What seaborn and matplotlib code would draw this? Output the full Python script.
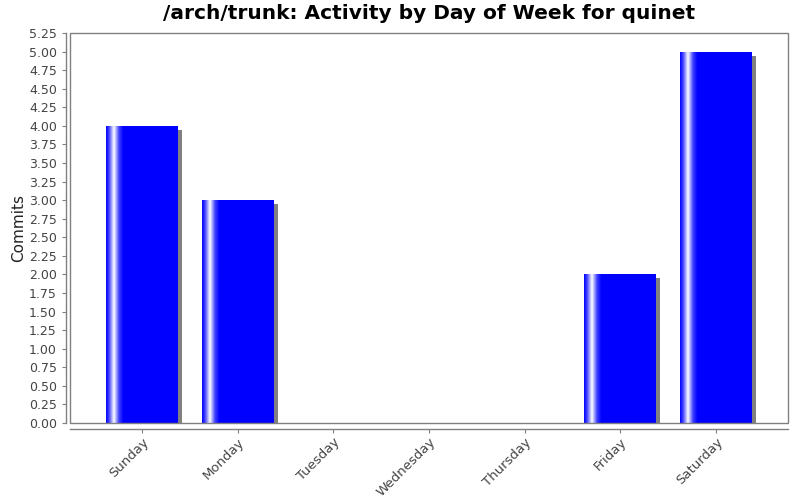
import numpy as np
import pandas as pd
import matplotlib
matplotlib.use("Agg")
import matplotlib.pyplot as plt
import matplotlib.transforms as mtransforms
from matplotlib.colors import LinearSegmentedColormap
from matplotlib.patches import Rectangle
import seaborn as sns

days = ["Sunday", "Monday", "Tuesday", "Wednesday", "Thursday", "Friday", "Saturday"]
commits = [4, 3, 0, 0, 0, 2, 5]
yticks = np.arange(0, 5.26, 0.25)

sns.set_style("white")
plt.rcParams["font.family"] = ["DejaVu Sans"]

df = pd.DataFrame({"day": days, "commits": commits})

fig = plt.figure(figsize=(8, 5), dpi=100)
ax = fig.add_axes([0.0875, 0.154, 0.8975, 0.78])

sns.barplot(data=df, x="day", y="commits", color="#0000ff", width=0.75,
            saturation=1, linewidth=0, ax=ax, zorder=3)

# shadow + left-side highlight gradient on each bar
grad = LinearSegmentedColormap.from_list(
    "g", [(0, "#0000ff"), (0.04, "#4040ff"), (0.11, "#ffffff"),
          (0.18, "#4040ff"), (0.24, "#0000ff"), (1, "#0000ff")])
shift = mtransforms.ScaledTranslation(4 / 100, -4 / 100, fig.dpi_scale_trans)
for bar in list(ax.patches):
    h = bar.get_height()
    if h <= 0:
        continue
    x0, w = bar.get_x(), bar.get_width()
    sh = Rectangle((x0, 0), w, h, facecolor="#808080", edgecolor="none",
                   transform=ax.transData + shift, zorder=2)
    ax.add_patch(sh)
    im = ax.imshow(np.linspace(0, 1, 256)[None, :], cmap=grad, aspect="auto",
                   extent=(x0, x0 + w, 0, h), zorder=4, interpolation="bilinear")
    im.set_clip_path(bar)

ax.set_xlim(-0.753, 6.753)
ax.set_ylim(0, 5.25)
ax.set_yticks(yticks)
ax.set_yticklabels([f"{v:.2f}" for v in yticks])

ax.set_xlabel("")
ax.set_ylabel("Commits", fontsize=11, color="#222222", labelpad=2)
ax.set_title("/arch/trunk: Activity by Day of Week for quinet",
             fontsize=14.5, fontweight="bold", color="black", pad=10)

# plot box
ax.add_patch(Rectangle((0, 0), 1, 1, transform=ax.transAxes, fill=False,
                       edgecolor="#808080", lw=1, zorder=6, clip_on=False))
for s in ["top", "right"]:
    ax.spines[s].set_visible(False)
for s in ["left", "bottom"]:
    ax.spines[s].set_color("#808080")
    ax.spines[s].set_linewidth(1)
ax.spines["left"].set_position(("outward", 3))
ax.spines["bottom"].set_position(("outward", 4))

ax.tick_params(axis="both", direction="out", length=3, color="#808080",
               labelcolor="#444444", left=True, bottom=True)
ax.tick_params(axis="y", labelsize=9)
ax.tick_params(axis="x", labelsize=9.5, pad=2)
plt.setp(ax.get_xticklabels(), rotation=45, ha="right", rotation_mode="anchor")

fig.savefig("out.png", dpi=100)
